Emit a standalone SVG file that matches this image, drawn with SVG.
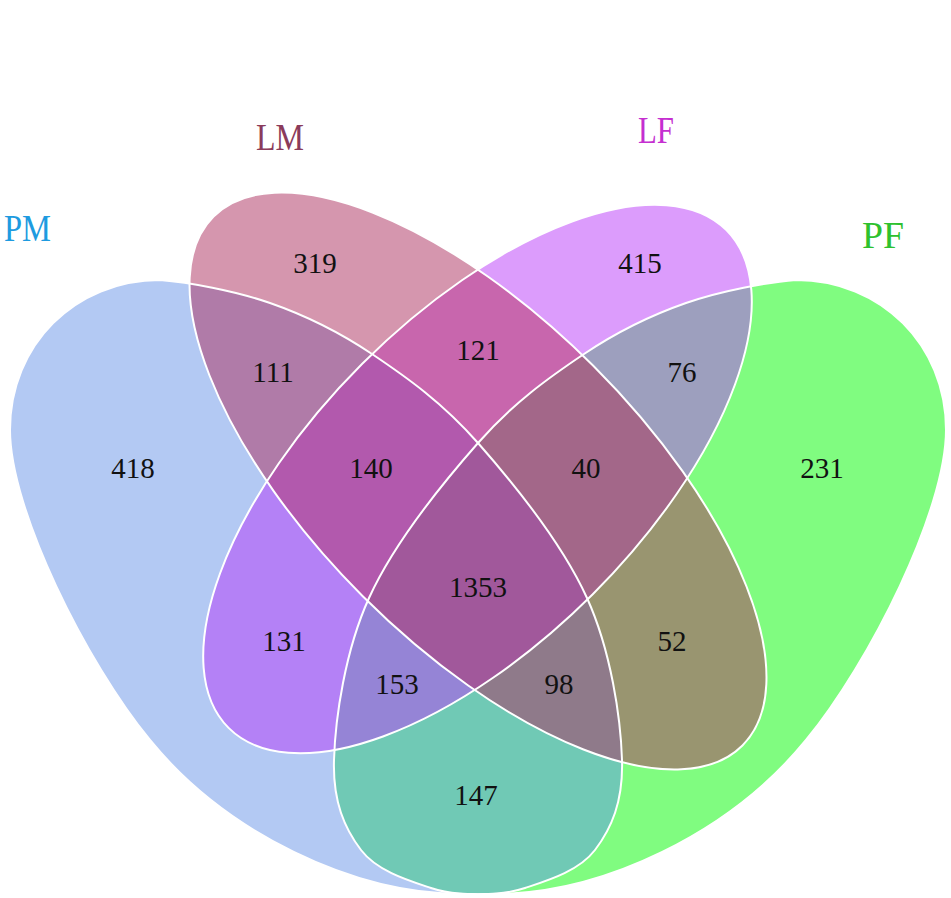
<svg xmlns="http://www.w3.org/2000/svg" width="951" height="898" viewBox="0 0 951 898">
<style>
.n{font-family:"Liberation Serif","Times New Roman",serif;font-size:29px;fill:#111;text-anchor:middle}
.t{font-family:"Liberation Serif","Times New Roman",serif;font-size:38px}
.o{fill:none;stroke:#fff;stroke-width:2}
</style>
<defs>
<path id="pm" d="M160,280 C188.3,282.2 234.7,290.7 270,303 C305.3,315.3 337.3,330.7 372,354 C406.7,377.3 442.2,402.3 478,443 C513.8,483.7 563,545.2 587,598 C611,650.8 620.7,718 622,760 C623.3,802 611.2,828.7 595,850 C578.8,871.3 547,880.7 525,888 C503,895.3 483.8,894.2 463,894 C353,894 226,833 150,740 C86.5,662.8 10,510 10,430 C10,345 75,280 160,280 Z"/>
<path id="pf" transform="matrix(-1 0 0 1 956 0)" d="M160,280 C188.3,282.2 234.7,290.7 270,303 C305.3,315.3 337.3,330.7 372,354 C406.7,377.3 442.2,402.3 478,443 C513.8,483.7 563,545.2 587,598 C611,650.8 620.7,718 622,760 C623.3,802 611.2,828.7 595,850 C578.8,871.3 547,880.7 525,888 C503,895.3 483.8,894.2 463,894 C353,894 226,833 150,740 C86.5,662.8 10,510 10,430 C10,345 75,280 160,280 Z"/>
<ellipse id="lm" cx="478" cy="481" rx="374" ry="163" transform="rotate(45 478 481)"/>
<ellipse id="lf" cx="477.5" cy="479" rx="352" ry="163" transform="rotate(-45 477.5 479)"/>
<clipPath id="cPM"><use href="#pm"/></clipPath>
<clipPath id="cLM"><use href="#lm"/></clipPath>
<clipPath id="cLF"><use href="#lf"/></clipPath>
</defs>
<rect width="951" height="898" fill="#fff"/>

<g id="PM"><use href="#pm" fill="#b3c9f3"/><text class="n" x="133" y="478">418</text></g>
<g id="LM"><use href="#lm" fill="#d596ae"/><text class="n" x="315" y="273">319</text></g>
<g id="LF"><use href="#lf" fill="#dc9cfc"/><text class="n" x="640" y="273">415</text></g>
<g id="PF"><use href="#pf" fill="#80fc80"/><text class="n" x="822" y="478">231</text></g>

<g id="PM-LM"><g clip-path="url(#cPM)"><use href="#lm" fill="#b07ba8"/></g><text class="n" x="273" y="382">111</text></g>
<g id="PM-LF"><g clip-path="url(#cPM)"><use href="#lf" fill="#b481f6"/></g><text class="n" x="284" y="651">131</text></g>
<g id="PM-PF"><g clip-path="url(#cPM)"><use href="#pf" fill="#70c9b5"/></g><text class="n" x="476" y="805">147</text></g>
<g id="LM-LF"><g clip-path="url(#cLM)"><use href="#lf" fill="#c866ad"/></g><text class="n" x="478" y="360">121</text></g>
<g id="LM-PF"><g clip-path="url(#cLM)"><use href="#pf" fill="#999570"/></g><text class="n" x="672" y="651">52</text></g>
<g id="LF-PF"><g clip-path="url(#cLF)"><use href="#pf" fill="#9d9fbe"/></g><text class="n" x="682" y="382">76</text></g>

<g id="PM-LM-LF"><g clip-path="url(#cPM)"><g clip-path="url(#cLM)"><use href="#lf" fill="#b259ad"/></g></g><text class="n" x="371" y="478">140</text></g>
<g id="PM-LM-PF"><g clip-path="url(#cPM)"><g clip-path="url(#cLM)"><use href="#pf" fill="#8f7a8a"/></g></g><text class="n" x="559" y="694">98</text></g>
<g id="PM-LF-PF"><g clip-path="url(#cPM)"><g clip-path="url(#cLF)"><use href="#pf" fill="#9584d6"/></g></g><text class="n" x="397" y="694">153</text></g>
<g id="LM-LF-PF"><g clip-path="url(#cLM)"><g clip-path="url(#cLF)"><use href="#pf" fill="#a36789"/></g></g><text class="n" x="586" y="478">40</text></g>
<g id="ALL"><g clip-path="url(#cPM)"><g clip-path="url(#cLM)"><g clip-path="url(#cLF)"><use href="#pf" fill="#a1589b"/></g></g></g><text class="n" x="478" y="597">1353</text></g>

<g id="outlines" class="o">
<use href="#pm"/><use href="#lm"/><use href="#lf"/><use href="#pf"/>
</g>

<g id="labels">
<text class="t" x="4" y="241" fill="#1e9be0" textLength="47" lengthAdjust="spacingAndGlyphs">PM</text>
<text class="t" x="256" y="150" fill="#8b3b5b" textLength="48" lengthAdjust="spacingAndGlyphs">LM</text>
<text class="t" x="638" y="143" fill="#c52fd0" textLength="36" lengthAdjust="spacingAndGlyphs">LF</text>
<text class="t" x="862" y="248" fill="#2ec12e" textLength="42" lengthAdjust="spacingAndGlyphs">PF</text>
</g>
</svg>
